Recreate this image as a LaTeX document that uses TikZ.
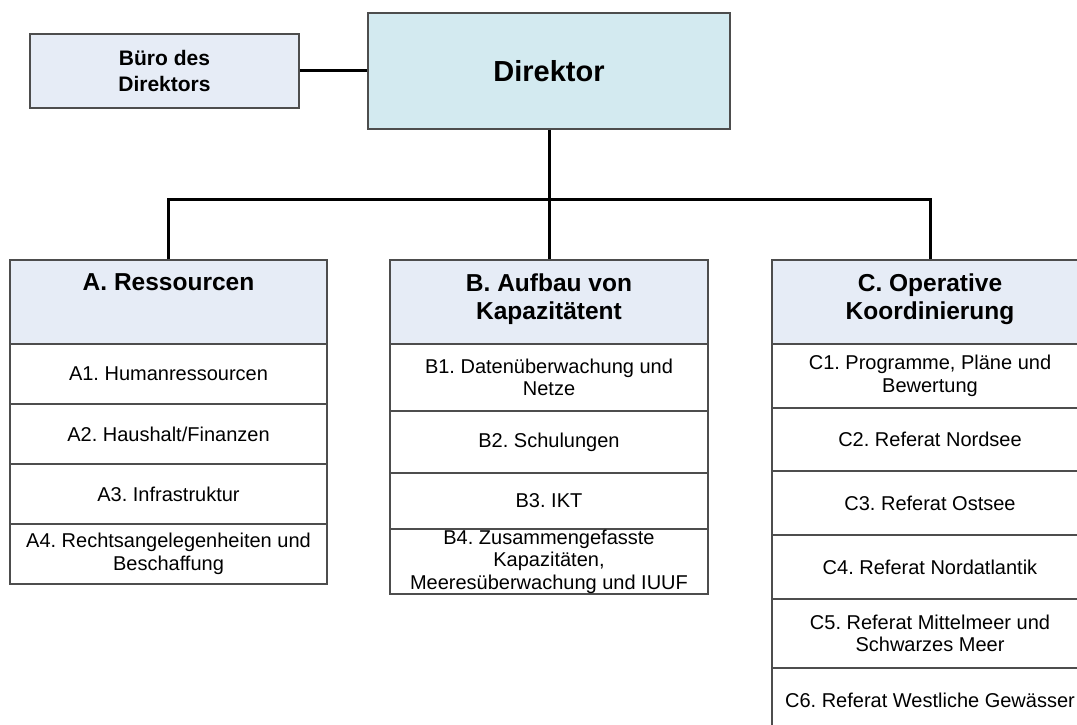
\documentclass[tikz,border=0pt]{standalone}
\usepackage{fontspec}
\setmainfont{Liberation Sans}
\frenchspacing
\definecolor{hdrfill}{HTML}{E6ECF6}
\definecolor{dirfill}{HTML}{D3EAF0}
\definecolor{edgegray}{HTML}{4D4D4D}
\begin{document}
\begin{tikzpicture}[x=1pt,y=-1pt,
  box/.style={draw=edgegray, line width=1.2pt, rectangle, inner sep=0pt, align=center},
  rowbox/.style={box, fill=white, font=\fontsize{20}{22.5}\selectfont},
  hdrbox/.style={box, fill=hdrfill},
  hdrtext/.style={anchor=north, inner sep=0pt, align=center, font=\bfseries\fontsize{24.5}{28}\selectfont},
  conn/.style={draw=black, line width=3pt}]
\useasboundingbox (0,0) rectangle (1077,725);

% top level
\node[box, fill=hdrfill, minimum width=269pt, minimum height=74pt,
      font=\bfseries\fontsize{21}{26.5}\selectfont] (buero) at (164.5,71) {Büro des\\Direktors};
\node[box, fill=dirfill, minimum width=362pt, minimum height=116pt,
      font=\bfseries\fontsize{29}{34}\selectfont] (dir) at (549,71) {Direktor};

% column A
\node[hdrbox, minimum width=317pt, minimum height=84pt] (hA) at (168.5,302) {};
\node[hdrtext] (hAt) at ([yshift=-14.5pt]hA.north) {A. Ressourcen};
\node[rowbox, minimum width=317pt, minimum height=60pt] (a1) at (168.5,374) {A1. Humanressourcen};
\node[rowbox, minimum width=317pt, minimum height=60pt] (a2) at (168.5,434) {A2. Haushalt/Finanzen};
\node[rowbox, minimum width=317pt, minimum height=60pt] (a3) at (168.5,494) {A3. Infrastruktur};
\node[rowbox, minimum width=317pt, minimum height=60pt] (a4) at (168.5,554) {A4. Rechtsangelegenheiten und\\Beschaffung};

% column B
\node[hdrbox, minimum width=318pt, minimum height=84pt] (hB) at (549,302) {};
\node[hdrtext] (hBt) at ([yshift=-14.5pt]hB.north) {B. Aufbau von\\Kapazitätent};
\node[rowbox, minimum width=318pt, minimum height=67pt] (b1) at (549,377.5) {B1. Datenüberwachung und\\Netze};
\node[rowbox, minimum width=318pt, minimum height=62pt] (b2) at (549,442) {B2. Schulungen};
\node[rowbox, minimum width=318pt, minimum height=56pt] (b3) at (549,501) {B3. IKT};
\node[rowbox, minimum width=318pt, minimum height=65pt] (b4) at (549,561.5) {B4. Zusammengefasste\\Kapazitäten,\\Meeresüberwachung und IUUF};

% column C
\node[hdrbox, minimum width=316pt, minimum height=84pt] (hC) at (930,302) {};
\node[hdrtext] (hCt) at ([yshift=-14.5pt]hC.north) {C. Operative\\Koordinierung};
\node[rowbox, minimum width=316pt, minimum height=64pt] (c1) at (930,376) {C1. Programme, Pläne und\\Bewertung};
\node[rowbox, minimum width=316pt, minimum height=63pt] (c2) at (930,439.5) {C2. Referat Nordsee};
\node[rowbox, minimum width=316pt, minimum height=64pt] (c3) at (930,503) {C3. Referat Ostsee};
\node[rowbox, minimum width=316pt, minimum height=64pt] (c4) at (930,567) {C4. Referat Nordatlantik};
\node[rowbox, minimum width=316pt, minimum height=69pt] (c5) at (930,633.5) {C5. Referat Mittelmeer und\\Schwarzes Meer};
\node[rowbox, minimum width=316pt, minimum height=64pt] (c6) at (930,700) {C6. Referat Westliche Gewässer};

% connectors
\coordinate (bus) at (549,199);
\draw[conn] (buero.east) -- (dir.west);
\draw[conn] (dir.south) -- (hB.north);
\draw[conn] (hA.north) |- (bus) -| (hC.north);
\end{tikzpicture}
\end{document}
